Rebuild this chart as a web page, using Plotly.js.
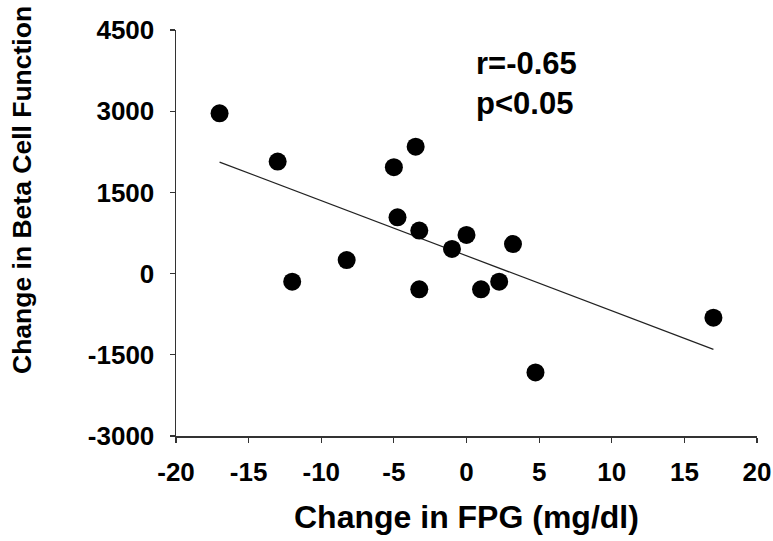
<!DOCTYPE html>
<html>
<head>
<meta charset="utf-8">
<script src="https://cdn.plot.ly/plotly-3.0.1.min.js"></script>
<style>html,body{margin:0;padding:0;background:#fff;}#chart{width:773px;height:541px;}</style>
</head>
<body>
<div id="chart"></div>
<script>
// Data
const fpgChange = [-17, -13, -12, -8.25, -5, -4.75, -3.5, -3.25, -3.25, -1, 0, 1, 2.25, 3.2, 4.75, 17];
const betaChange = [2960, 2070, -150, 250, 1965, 1040, 2345, 795, -290, 455, 715, -290, -150, 545, -1825, -815];
const trendX = [-17, 17];
const trendY = [2060, -1400];
const xTicks = [-20, -15, -10, -5, 0, 5, 10, 15, 20];
const yTicks = [-3000, -1500, 0, 1500, 3000, 4500];
const statsText = ["r=-0.65", "p<0.05"];

const FONT = "Liberation Sans, Arial, Helvetica, sans-serif";

const traces = [
  {
    x: trendX, y: trendY, type: "scatter", mode: "lines",
    line: {color: "#222", width: 1.2}, hoverinfo: "skip", showlegend: false
  },
  {
    x: fpgChange, y: betaChange, type: "scatter", mode: "markers",
    marker: {color: "#000", size: 18}, showlegend: false
  }
];

const axisCommon = {
  showgrid: false, zeroline: false, showline: true,
  linecolor: "#333", linewidth: 1.5,
  ticks: "outside", ticklen: 5, tickwidth: 1.2, tickcolor: "#333",
  tickfont: {family: FONT, size: 26, color: "#000", weight: "bold"}
};

const layout = {
  width: 773, height: 541,
  margin: {l: 176, r: 16, t: 30, b: 105},
  paper_bgcolor: "#fff", plot_bgcolor: "#fff",
  xaxis: Object.assign({}, axisCommon, {
    range: [-20, 20], tickmode: "array", tickvals: xTicks,
    ticktext: xTicks.map(String), ticklabelstandoff: 7
  }),
  yaxis: Object.assign({}, axisCommon, {
    range: [-3000, 4500], tickmode: "array", tickvals: yTicks,
    ticktext: yTicks.map(String), ticklabelstandoff: 10
  }),
  annotations: [
    {
      text: "Change in FPG (mg/dl)", xref: "paper", yref: "paper",
      x: 0.5, y: -0.2, xanchor: "center", yanchor: "middle", showarrow: false,
      font: {family: FONT, size: 32, color: "#000", weight: "bold"}
    },
    {
      text: "Change in Beta Cell Function", xref: "paper", yref: "paper",
      x: -0.265, y: 0.606, xanchor: "center", yanchor: "middle", showarrow: false,
      textangle: -90,
      font: {family: FONT, size: 26.5, color: "#000", weight: "bold"}
    },
    {
      text: statsText.join("<br>"), xref: "paper", yref: "paper",
      x: 0.515, y: 0.962, xanchor: "left", yanchor: "top", align: "left",
      showarrow: false, borderpad: 0,
      font: {family: FONT, size: 31, color: "#000", weight: "bold"}
    }
  ]
};

Plotly.newPlot("chart", traces, layout, {displayModeBar: false, staticPlot: true});
</script>
</body>
</html>
